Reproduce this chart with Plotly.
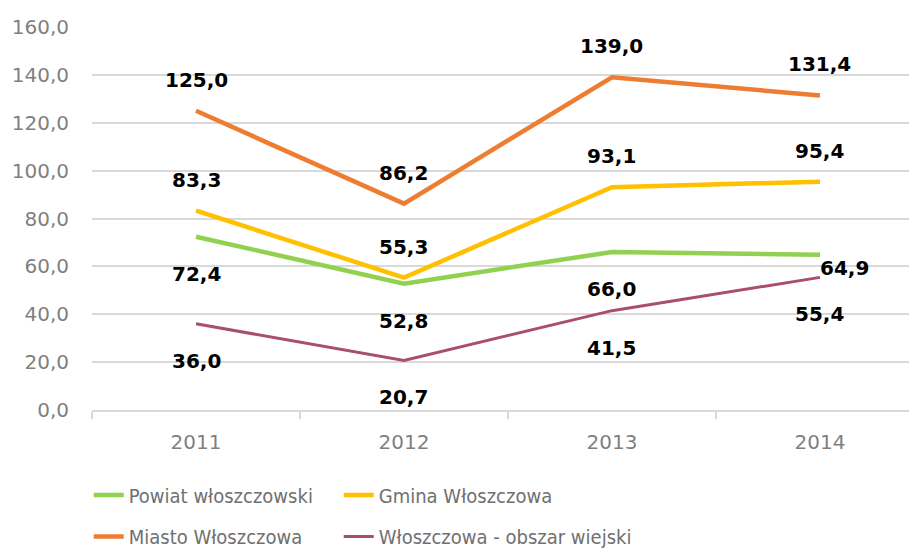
import plotly.graph_objects as go

years = ["2011", "2012", "2013", "2014"]
powiat = [72.4, 52.8, 66.0, 64.9]
gmina = [83.3, 55.3, 93.1, 95.4]
miasto = [125.0, 86.2, 139.0, 131.4]
wiejski = [36.0, 20.7, 41.5, 55.4]
y_ticks = [0, 20, 40, 60, 80, 100, 120, 140, 160]

# name, values, colour, width, label side, legend id, legend x, legend y (paper)
series = [
    ("Powiat włoszczowski", powiat, "#92D050", 4.5, "below", "legend", -0.004, -0.222),
    ("Gmina Włoszczowa", gmina, "#FFC000", 4.5, "above", "legend2", 0.302, -0.222),
    ("Miasto Włoszczowa", miasto, "#ED7D31", 4.5, "above", "legend3", -0.004, -0.330),
    ("Włoszczowa - obszar wiejski", wiejski, "#A94E6B", 3, "below", "legend4", 0.302, -0.330),
]

FONT = "DejaVu Sans"
LEGFONT = "DejaVu Sans Condensed, Liberation Sans Narrow, Liberation Sans"
fig = go.Figure()
annotations = []
legends = {}
for name, vals, color, w, pos, lg, lx, ly in series:
    fig.add_trace(go.Scatter(
        x=years, y=vals, name=name, mode="lines",
        line=dict(color=color, width=w), legend=lg,
    ))
    legends[lg] = dict(x=lx, y=ly, xanchor="left", yanchor="middle",
                       font=dict(family=LEGFONT, size=20, color="#707070"),
                       itemwidth=30, bgcolor="rgba(0,0,0,0)")
    for i, v in enumerate(vals):
        txt = "<b>" + f"{v:.1f}".replace(".", ",") + "</b>"
        a = dict(x=i, y=v, xref="x", yref="y", text=txt, showarrow=False,
                 font=dict(family=FONT, size=20, color="black"))
        if name.startswith("Powiat") and i == 3:
            a.update(xanchor="left", xshift=-2, yshift=-13)
        else:
            a.update(yshift=31 if pos == "above" else -37)
        annotations.append(a)

fig.update_layout(
    width=909, height=551,
    margin=dict(l=92, r=0, t=27, b=141, autoexpand=False),
    paper_bgcolor="white", plot_bgcolor="white",
    separators=", ",
    showlegend=True,
    annotations=annotations,
    font=dict(family=FONT, color="#7F7F7F"),
    **legends,
)
fig.update_xaxes(
    type="category", range=[-0.5, 3.428],
    showgrid=False, showline=True, linecolor="#D9D9D9", linewidth=1.5,
    ticks="outside", tickson="boundaries", ticklen=7, tickcolor="#D9D9D9", tickwidth=1.5,
    tickfont=dict(family=FONT, size=20, color="#7F7F7F"),
    ticklabelstandoff=13,
)
fig.update_yaxes(
    range=[0, 160], tickvals=y_ticks, tickformat=".1f",
    showgrid=True, gridcolor="#D9D9D9", gridwidth=1.5,
    zeroline=False, showline=False,
    tickfont=dict(family=FONT, size=20, color="#7F7F7F"),
    ticklabelstandoff=22,
)
fig.write_html("out.html", config={"displayModeBar": False},
               post_script="document.body.style.margin='0';")
